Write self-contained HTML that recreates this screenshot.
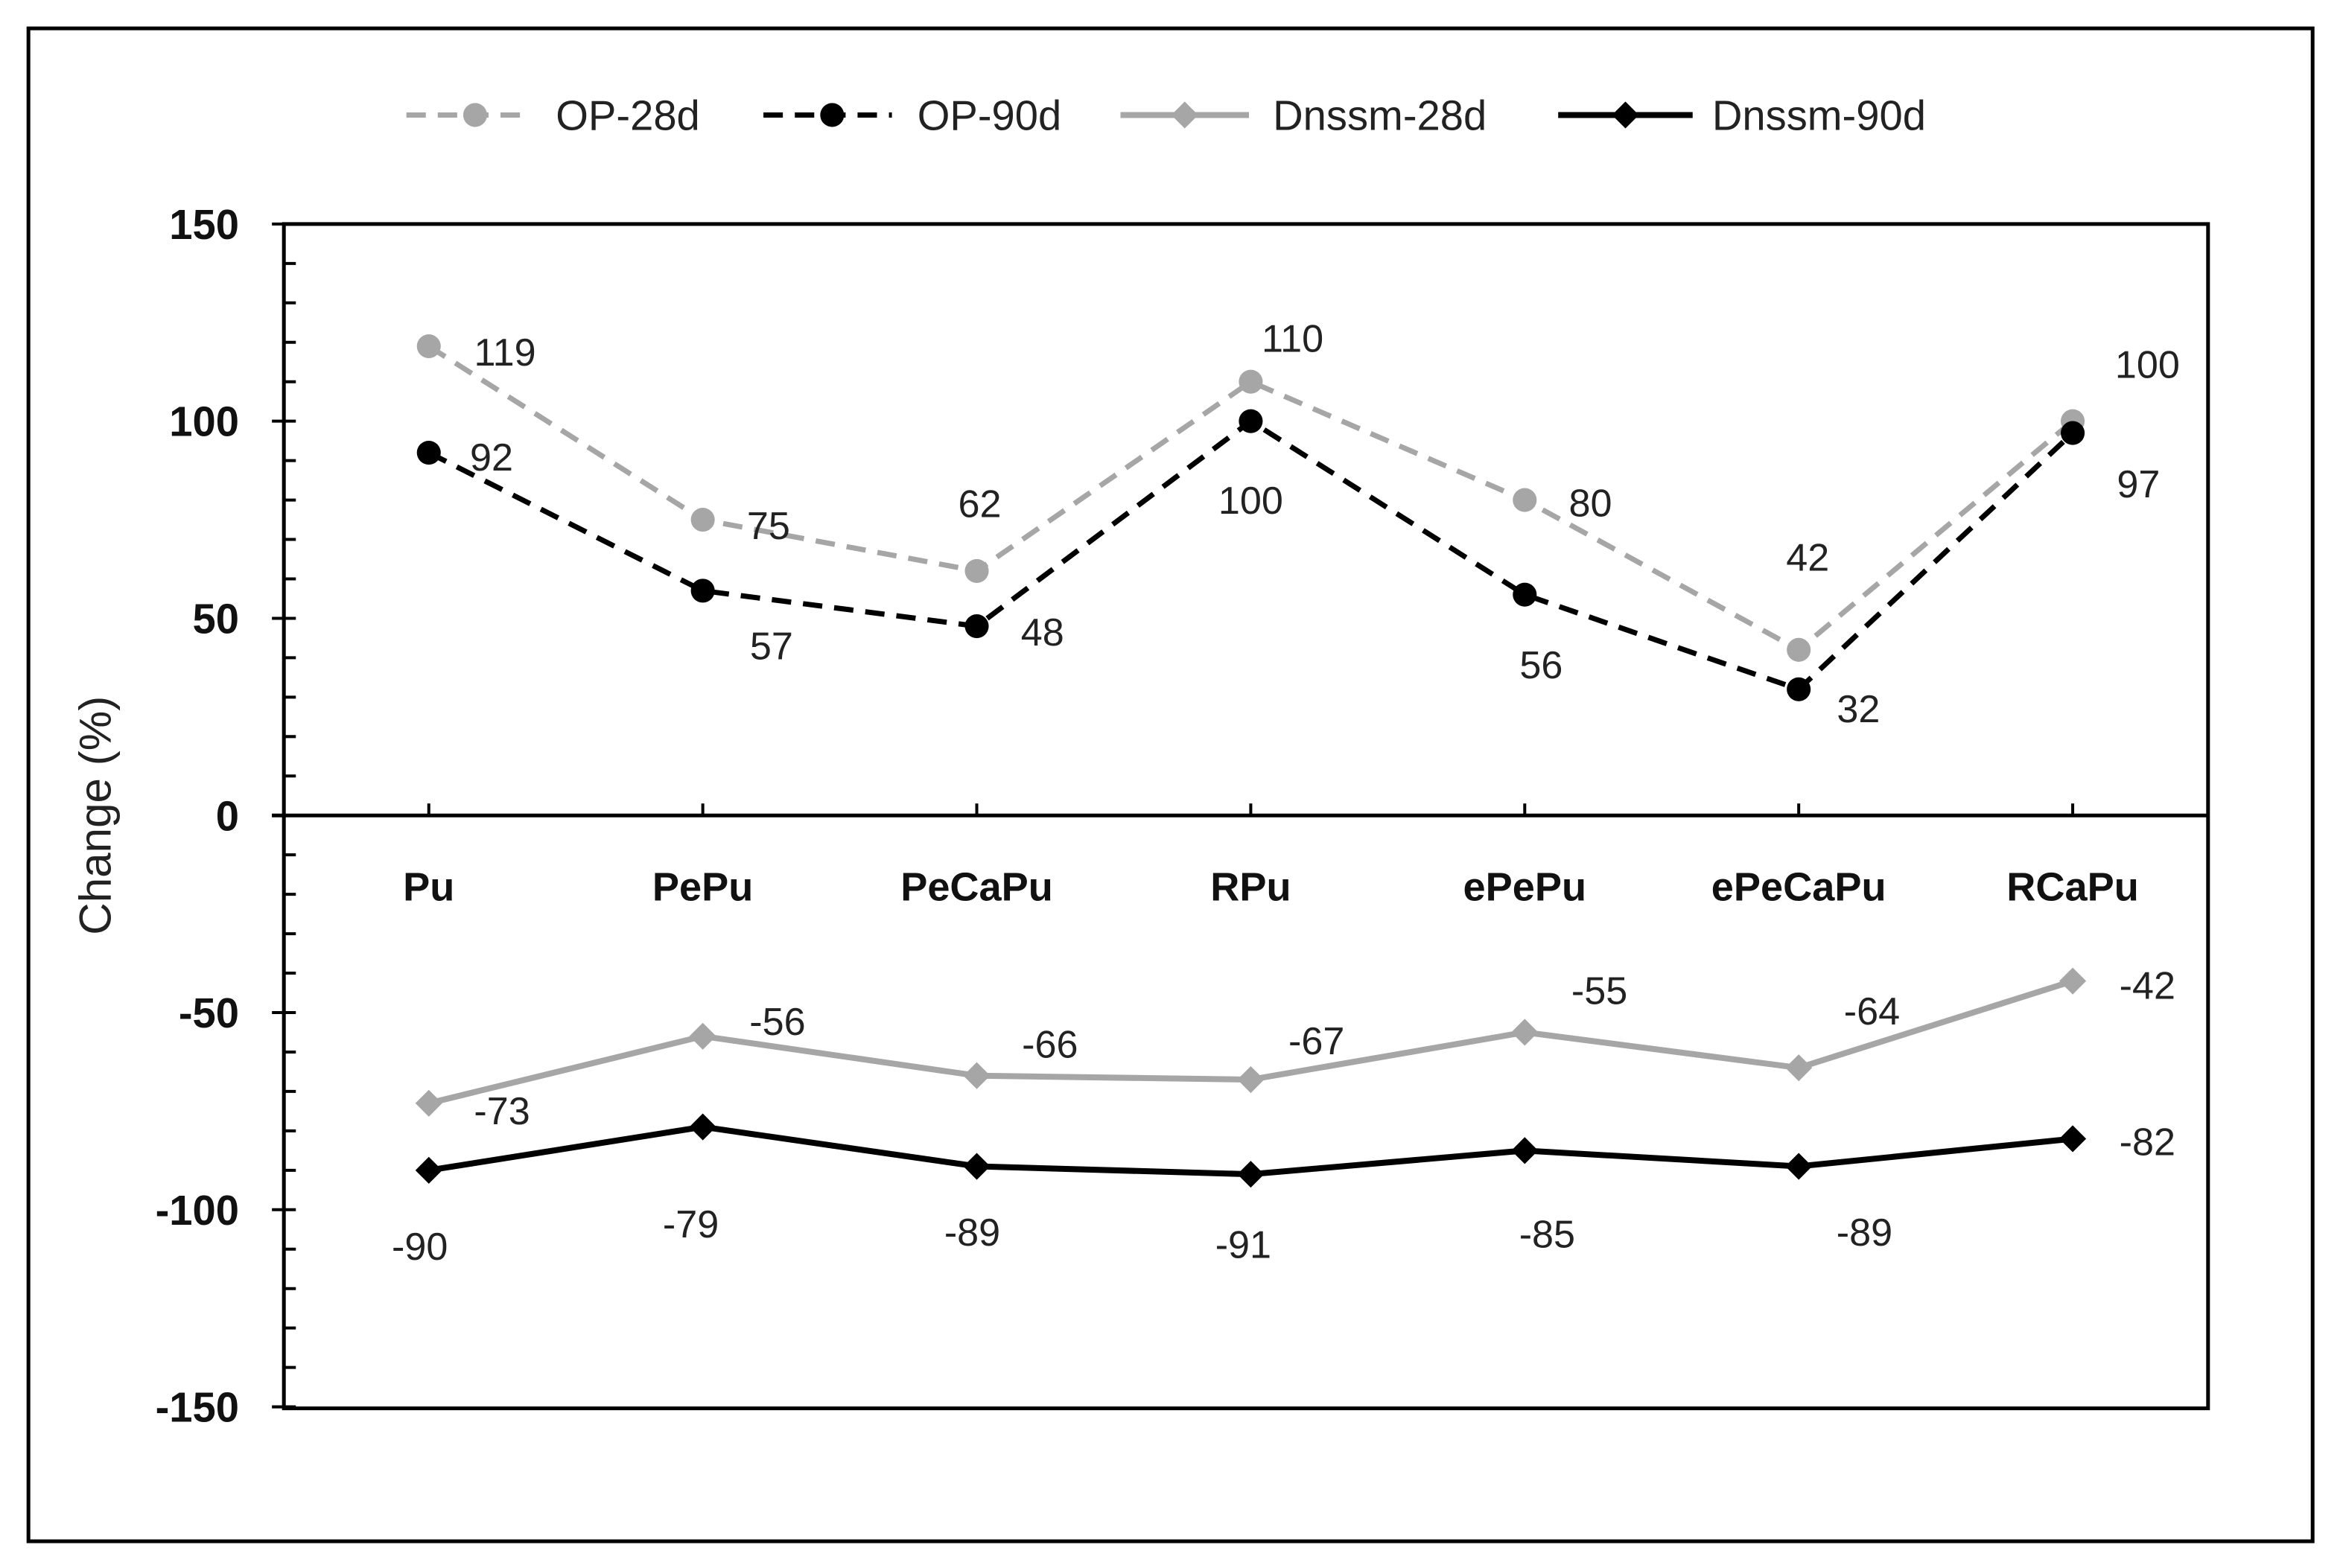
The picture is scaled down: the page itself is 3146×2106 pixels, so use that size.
<!DOCTYPE html>
<html><head><meta charset="utf-8"><style>
html,body{margin:0;padding:0;background:#fff;}
svg{display:block;font-family:"Liberation Sans",sans-serif;}
</style></head><body>
<svg id="chart" width="3146" height="2106" viewBox="0 0 1568.3 1049.9" xmlns="http://www.w3.org/2000/svg">
<rect x="19" y="19" width="1529" height="1013" fill="#fff" stroke="#000" stroke-width="2.5"/>
<g id="legend"></g>
<g id="axes"></g>
<g id="series"></g>
<g id="labels"></g>
<text transform="translate(74,546) rotate(-90)" text-anchor="middle" font-size="30" fill="#222">Change (%)</text>
</svg>
<script>
const categories = ["Pu","PePu","PeCaPu","RPu","ePePu","ePeCaPu","RCaPu"];
const op28 = [119,75,62,110,80,42,100];
const op90 = [92,57,48,100,56,32,97];
const dn28 = [-73,-56,-66,-67,-55,-64,-42];
const dn90 = [-90,-79,-89,-91,-85,-89,-82];
const yTicks = [150,100,50,0,-50,-100,-150];
const seriesNames = ["OP-28d","OP-90d","Dnssm-28d","Dnssm-90d"];

const NS = "http://www.w3.org/2000/svg";
const L = 190, R = 1478, T = 150, B = 943;
function yS(v){ return 546 - v * (396/150); }
function xS(i){ return 287 + i * 183.4; }
function mk(tag, attrs, parent){ const e = document.createElementNS(NS, tag); for (const k in attrs) e.setAttribute(k, attrs[k]); parent.appendChild(e); return e; }

const axes = document.getElementById('axes');
let pb = mk('rect', {x:L, y:T, width:R-L, height:B-T, fill:'none', stroke:'#000', 'stroke-width':2.5}, axes);


let zl = mk('line', {x1:L-8, x2:R, y1:yS(0), y2:yS(0), stroke:'#000', 'stroke-width':2.5}, axes);


for (let v = -150; v <= 150; v += 10) {
  const major = v % 50 === 0;
  let t = mk('line', {x1: major ? L-8 : L, x2: L+8, y1:yS(v), y2:yS(v), stroke:'#000', 'stroke-width':2}, axes);
  
  
}
yTicks.forEach(v => {
  let t = mk('text', {x:L-30, y:yS(v)+10, 'text-anchor':'end', 'font-size':28, 'font-weight':'bold', fill:'#111'}, axes);
  t.textContent = v;
  
  
});
categories.forEach((c, i) => {
  let tk = mk('line', {x1:xS(i), x2:xS(i), y1:yS(0), y2:yS(0)-8, stroke:'#000', 'stroke-width':2}, axes);
  
  
  let t = mk('text', {x:xS(i), y:603, 'text-anchor':'middle', 'font-size':27, 'font-weight':'bold', fill:'#111'}, axes);
  t.textContent = c;
  
  
});

const seriesG = document.getElementById('series');
const defs = [
  {data:op28, color:'#a6a6a6', dash:'13,8', marker:'circle', w:3.5},
  {data:op90, color:'#000', dash:'13,8', marker:'circle', w:3.5},
  {data:dn28, color:'#a6a6a6', dash:'', marker:'diamond', w:4},
  {data:dn90, color:'#000', dash:'', marker:'diamond', w:4}
];
function marker(type, x, y, color, parent, size){
  if (type === 'circle') return mk('circle', {cx:x, cy:y, r:size, fill:color}, parent);
  const s = size + 1;
  return mk('polygon', {points:`${x},${y-s} ${x+s},${y} ${x},${y+s} ${x-s},${y}`, fill:color}, parent);
}
defs.forEach((d, si) => {
  const pts = d.data.map((v, i) => xS(i) + ',' + yS(v)).join(' ');
  let pl = mk('polyline', {points:pts, fill:'none', stroke:d.color, 'stroke-width':d.w, 'stroke-dasharray':d.dash}, seriesG);
  
  
  d.data.forEach((v, i) => {
    let m = marker(d.marker, xS(i), yS(v), d.color, seriesG, 8);
    
    
  });
});

const off28 = [[51,4],[44,4],[2,-45],[28,-29],[44,2],[6,-62],[50,-38]];
const off90 = [[42,3],[46,37],[44,4],[0,53],[11,47],[40,13],[44,34]];
const offD28 = [[49,5],[50,-10],[49,-21],[44,-26],[50,-28],[49,-38],[50,3]];
const offD90 = [[-6,51],[-8,65],[-3,44],[-5,47],[15,56],[44,44],[50,2]];
const labelsG = document.getElementById('labels');
[[op28,off28],[op90,off90],[dn28,offD28],[dn90,offD90]].forEach(([data, offs], si) => {
  data.forEach((v, i) => {
    let t = mk('text', {x:xS(i)+offs[i][0], y:yS(v)+offs[i][1]+9, 'text-anchor':'middle', 'font-size':26, fill:'#222'}, labelsG);
    t.textContent = v;
    
    
  });
});

const lg = document.getElementById('legend');
const legX = [[272,350,318,372],[511,597,557,614],[750,836,793,852],[1043,1133,1088,1146]];
seriesNames.forEach((n, si) => {
  const d = defs[si], p = legX[si];
  let ln = mk('line', {x1:p[0], x2:p[1], y1:77, y2:77, stroke:d.color, 'stroke-width':d.w, 'stroke-dasharray':d.dash}, lg);
  
  
  let m = marker(d.marker, p[2], 77, d.color, lg, 8);
  
  
  let t = mk('text', {x:p[3], y:87, 'font-size':28, fill:'#222'}, lg);
  t.textContent = n;
  
  
});
</script>
</body></html>
